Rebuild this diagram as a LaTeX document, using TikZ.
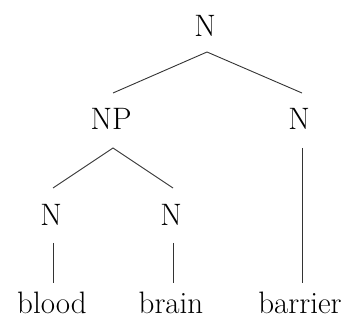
\documentclass[tikz,border=0pt]{standalone}
\usepackage{tikz}

\begin{document}
\begin{tikzpicture}[x=1pt,y=-1pt,
  lbl/.style={inner sep=0pt,font=\fontsize{31}{36}\selectfont},
  wrd/.style={inner sep=0pt,anchor=base,font=\fontsize{31}{36}\selectfont},
  edge/.style={line width=0.9pt,black!80}]
\useasboundingbox (0,0) rectangle (348,320);
% category labels
\node[lbl] (N0) at (205,26) {N};
\node[lbl] (NP) at (111,119) {NP};
\node[lbl] (N2) at (299,119) {N};
\node[lbl] (NA) at (51,215) {N};
\node[lbl] (NB) at (171,215) {N};
% words
\node[wrd] (blood) at (52,314) {blood};
\node[wrd] (brain) at (171,314) {brain};
\node[wrd] (barrier) at (300,314) {barrier};
% line ends
\coordinate (N0b) at (207,52);
\coordinate (NPt) at (113,93);
\coordinate (N2t) at (302,93);
\coordinate (NPb) at (113,148);
\coordinate (NAt) at (53,188);
\coordinate (NBt) at (173,188);
\coordinate (NAb) at (53,243);
\coordinate (NBb) at (173,243);
\coordinate (N2b) at (302,148);
\coordinate (bloodt) at (53,283);
\coordinate (braint) at (173,283);
\coordinate (barriert) at (302,283);
\draw[edge] (NPt)--(N0b)--(N2t);
\draw[edge] (NAt)--(NPb)--(NBt);
\draw[edge] (NAb)--(bloodt);
\draw[edge] (NBb)--(braint);
\draw[edge] (N2b)--(barriert);
\end{tikzpicture}
\end{document}
